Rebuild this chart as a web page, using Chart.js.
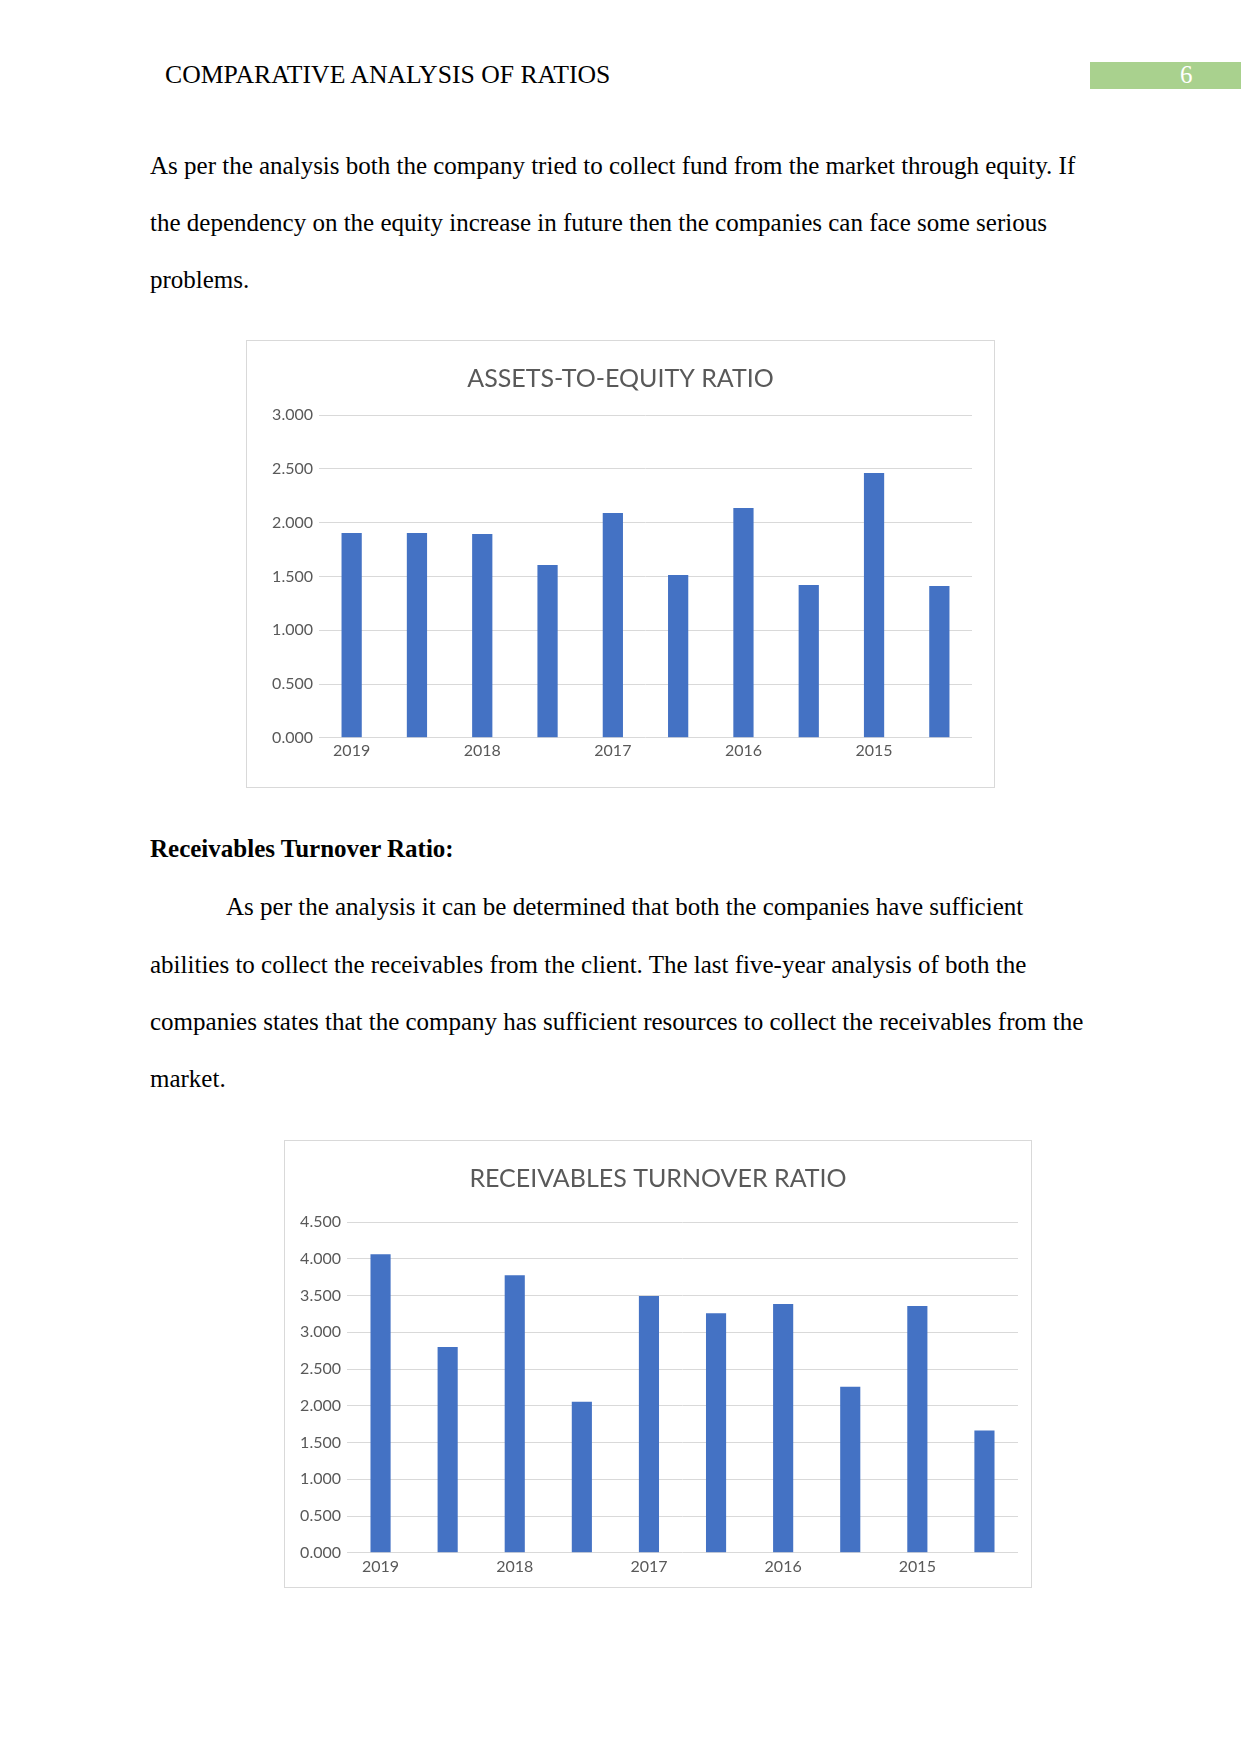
<!DOCTYPE html>
<html>
<head>
<meta charset="utf-8">
<title>Comparative Analysis of Ratios</title>
<script src="https://cdn.jsdelivr.net/npm/chart.js@4.4.0/dist/chart.umd.min.js"></script>
<style>
  html, body { margin: 0; padding: 0; background: #fff; }
  body {
    width: 1241px; height: 1754px; position: relative; overflow: hidden;
    font-family: "Liberation Serif", "Times New Roman", serif; color: #000;
  }
  .line { position: absolute; left: 150px; font-size: 25px; line-height: 28px; white-space: nowrap; }
  .header { left: 165px; top: 61px; font-size: 25.7px; }
  .page-tab { position: absolute; left: 1090px; top: 62px; width: 151px; height: 27px; background: #A9D18E; }
  .page-num { position: absolute; left: 1180px; top: 61px; font-size: 25px; line-height: 28px; color: #fff; }
  .chart-box { position: absolute; border: 1px solid #D9D9D9; box-sizing: border-box; background: #fff; }
  .chart-box canvas { display: block; }
  #box1 { left: 246px; top: 340px; width: 749px; height: 448px; }
  #box2 { left: 284px; top: 1140px; width: 748px; height: 448px; }
</style>
</head>
<body>

<div class="line header">COMPARATIVE ANALYSIS OF RATIOS</div>
<div class="page-tab"></div>
<div class="page-num">6</div>

<div class="line" style="top:152px">As per the analysis both the company tried to collect fund from the market through equity. If</div>
<div class="line" style="top:209px">the dependency on the equity increase in future then the companies can face some serious</div>
<div class="line" style="top:266px">problems.</div>

<div class="chart-box" id="box1"><canvas id="assetsChart"></canvas></div>

<div class="line" style="top:835px; font-weight:bold">Receivables Turnover Ratio:</div>
<div class="line" style="top:893px; left:226px">As per the analysis it can be determined that both the companies have sufficient</div>
<div class="line" style="top:951px">abilities to collect the receivables from the client. The last five-year analysis of both the</div>
<div class="line" style="top:1008px">companies states that the company has sufficient resources to collect the receivables from the</div>
<div class="line" style="top:1065px">market.</div>

<div class="chart-box" id="box2"><canvas id="receivablesChart"></canvas></div>

<script>
// Categories (two bars per year, label shown on the first one)
const years = ['2019', '2019', '2018', '2018', '2017', '2017', '2016', '2016', '2015', '2015'];

// Series values
const assetsToEquity = [1.903, 1.903, 1.893, 1.605, 2.089, 1.512, 2.135, 1.419, 2.461, 1.410];
const receivablesTurnover = [4.062, 2.801, 3.777, 2.056, 3.492, 3.258, 3.384, 2.259, 3.357, 1.663];

// Axis ranges
const assetsAxis = { max: 3, step: 0.5 };
const receivablesAxis = { max: 4.5, step: 0.5 };

const BAR_COLOR = '#4472C4';
const GRID_COLOR = '#D9D9D9';
const TEXT_COLOR = '#595959';
const FONT_FAMILY = 'Lato, Carlito, Calibri, sans-serif';

// Build one Excel-style column chart
function makeColumnChart(canvasId, title, values, axis, layout) {
    const ctx = document.getElementById(canvasId).getContext('2d');
    return new Chart(ctx, {
        type: 'bar',
        data: {
            labels: years,
            datasets: [{
                data: values,
                backgroundColor: BAR_COLOR,
                borderWidth: 0,
                categoryPercentage: 1,
                barPercentage: layout.barPct
            }]
        },
        options: {
            responsive: true,
            maintainAspectRatio: false,
            animation: false,
            layout: { padding: { left: 0, right: 0, top: 0, bottom: layout.bottom } },
            plugins: {
                legend: { display: false },
                tooltip: { enabled: false },
                title: {
                    display: true,
                    text: title,
                    color: TEXT_COLOR,
                    font: { family: FONT_FAMILY, size: 25, weight: 'normal', lineHeight: 1.2 },
                    padding: { top: layout.titleTop, bottom: layout.titleBottom }
                }
            },
            scales: {
                x: {
                    grid: { display: false, drawTicks: false },
                    border: { display: false },
                    ticks: {
                        color: TEXT_COLOR,
                        font: { family: FONT_FAMILY, size: 16, lineHeight: 1.2 },
                        padding: layout.xPad,
                        autoSkip: false,
                        maxRotation: 0,
                        // only the first bar of each year carries the label
                        callback: function (value, index) {
                            return index % 2 === 0 ? this.getLabelForValue(value) : '';
                        }
                    }
                },
                y: {
                    min: 0,
                    max: axis.max,
                    afterFit: (scale) => { scale.width = layout.yWidth; },
                    grid: { color: GRID_COLOR, lineWidth: 1, drawTicks: false },
                    border: { display: false },
                    ticks: {
                        stepSize: axis.step,
                        color: TEXT_COLOR,
                        font: { family: FONT_FAMILY, size: 16 },
                        padding: 6,
                        callback: (v) => Number(v).toFixed(3)
                    }
                },
                // empty right axis: keeps the right margin while the title stays centred on the box
                yRight: {
                    position: 'right',
                    afterFit: (scale) => { scale.width = layout.right; },
                    grid: { display: false, drawTicks: false },
                    border: { display: false },
                    ticks: { display: false }
                }
            }
        }
    });
}

makeColumnChart('assetsChart', 'ASSETS-TO-EQUITY RATIO', assetsToEquity, assetsAxis, {
    barPct: 0.31, right: 22, bottom: 24, titleTop: 23, titleBottom: 21, xPad: 3, yWidth: 72
});

makeColumnChart('receivablesChart', 'RECEIVABLES TURNOVER RATIO', receivablesTurnover, receivablesAxis, {
    barPct: 0.30, right: 13, bottom: 7, titleTop: 23, titleBottom: 28, xPad: 4, yWidth: 62
});
</script>
</body>
</html>
